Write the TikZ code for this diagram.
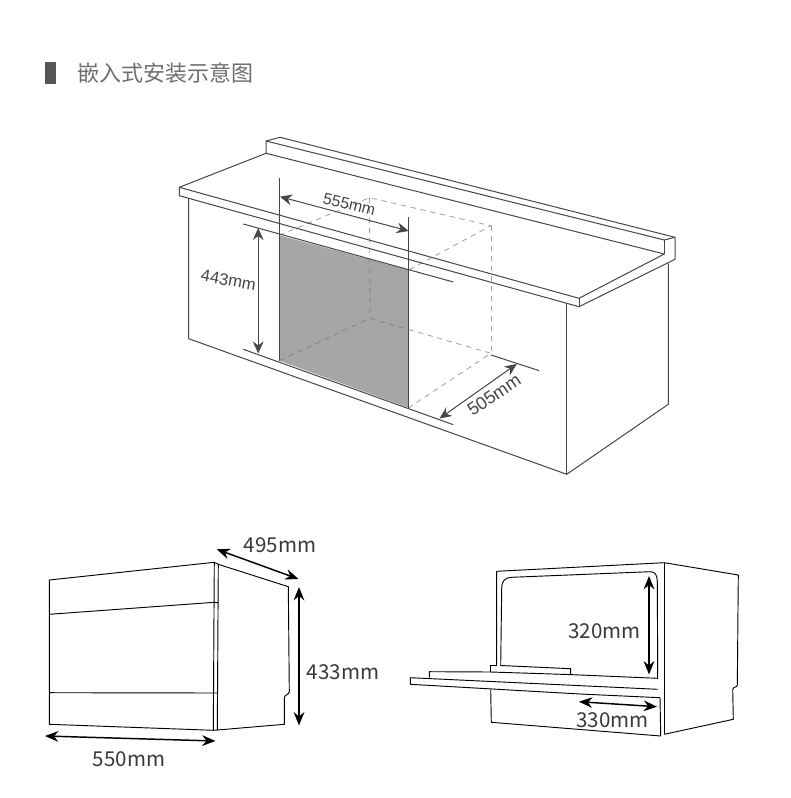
\documentclass[tikz,border=0pt]{standalone}
\usepackage{fontspec}
\setmainfont{Liberation Sans}
\newfontfamily\cjkfont{Noto Sans CJK SC}
\usetikzlibrary{arrows.meta,positioning}
\definecolor{linegray}{RGB}{70,70,70}
\definecolor{panelgray}{RGB}{166,166,166}
\definecolor{dashgray}{RGB}{160,160,160}
\definecolor{titlegray}{RGB}{85,85,85}
\tikzset{
    % Drawing styles
    cabinetline/.style={draw=linegray, line width=0.75pt, line join=round},
    hiddenline/.style={draw=dashgray, line width=0.6pt, dash pattern=on 4pt off 3.5pt},
    unitline/.style={draw=black, line width=0.7pt, line join=round},
    dimarrow/.style={draw=linegray, line width=0.75pt, {Stealth[length=9pt,width=8pt]}-{Stealth[length=9pt,width=8pt]}},
    sizearrow/.style={draw=black, line width=1.1pt, {Stealth[length=10pt,width=8pt]}-{Stealth[length=10pt,width=8pt]}},
    cutlabel/.style={inner sep=0pt, text=linegray, font=\fontsize{12}{14}\selectfont},
    sizelabel/.style={inner sep=0pt, text=black!78, font=\cjkfont\fontsize{15.4}{17}\selectfont}
}
\begin{document}
\begin{tikzpicture}[x=0.75pt,y=-0.75pt]
\useasboundingbox (0,0) rectangle (790,798);

% Title
\fill[titlegray] (45,62) rectangle (56,84);
\node[anchor=west, inner sep=0pt, text=titlegray!85, font=\cjkfont\fontsize{16.5}{18}\selectfont] (title) at (77.5,72.7) {嵌入式安装示意图};

% Gray front panel
\fill[panelgray] (279.3,235.3) -- (408.7,270) -- (408.7,407.7) -- (279.3,360.7) -- cycle;

% Hidden box
\draw[hiddenline] (279.3,235.3) -- (369.5,197.7) -- (491,225.7) -- (408.7,270);
\draw[hiddenline] (369.5,197.7) -- (370,318.3);
\draw[hiddenline] (491,225.7) -- (491,353.3);
\draw[hiddenline] (279.3,360.7) -- (370,318.3) -- (491,353.3) -- (408.7,407.7);

% Hidden box seen on the panel
\begin{scope}
\clip (279.3,235.3) -- (408.7,270) -- (408.7,407.7) -- (279.3,360.7) -- cycle;
\draw[hiddenline, draw=black!48] (369.5,197.7) -- (370,318.3);
\draw[hiddenline, draw=black!48] (279.3,360.7) -- (370,318.3) -- (491,353.3);
\end{scope}

% Countertop
\draw[cabinetline] (266,153.3) -- (179.3,187.3) -- (179.3,195.7) -- (579,306.7) -- (675,259.3) -- (675,237.3) -- (280,137.3) -- (266,141) -- (266,153.3) -- (664.3,254) -- (579,298.3) -- (179.3,187.3);
\draw[cabinetline] (266,141) -- (664.3,240) -- (675,237.3);
\draw[cabinetline] (664.3,240) -- (664.3,254);
\draw[cabinetline] (579,298.3) -- (579,306.7);

% Cabinet body
\draw[cabinetline] (188.7,198.3) -- (188.7,338.7) -- (566.7,474.3) -- (668.3,404.3) -- (668.3,263.3);
\draw[cabinetline] (566.7,303.2) -- (566.7,474.3);

% Opening edges
\draw[cabinetline] (279.3,178.3) -- (279.3,360.7);
\draw[cabinetline] (408.7,217.3) -- (408.7,407.7);
\draw[cabinetline] (243.3,224) -- (453.3,282);
\draw[cabinetline] (243.3,349.3) -- (453.3,424.7);
\draw[cabinetline] (491,355) -- (539.3,370.7);

% Cut-out dimensions
\coordinate (widthL) at (280,196.7);
\coordinate (widthR) at (408.7,231);
\coordinate (heightT) at (258.2,228);
\coordinate (heightB) at (258.2,353.5);
\coordinate (depthF) at (439.5,418.5);
\coordinate (depthB) at (516.7,364);
\draw[dimarrow] (widthL) -- (widthR);
\draw[dimarrow] (heightT) -- (heightB);
\draw[dimarrow] (depthF) -- (depthB);
\node[cutlabel, rotate=-14] (widthlabel) at (349.3,204.3) {555mm};
\node[cutlabel, rotate=-10, font=\fontsize{12.5}{14}\selectfont] (heightlabel) at (228.5,280) {443mm};
\node[cutlabel, rotate=34, font=\fontsize{13.5}{15}\selectfont] (depthlabel) at (494,395) {505mm};

% Unit, front and side
\draw[unitline] (49.3,580) -- (214.3,562.3) -- (213.3,730.3) -- (49.3,724.3) -- cycle;
\draw[unitline] (214.3,562.3) -- (218.3,564.3) -- (217.3,730) -- (213.3,730.3);
\draw[unitline] (49.3,614.3) -- (214.3,602.3) -- (218.2,602.7);
\draw[unitline] (49.3,692.7) -- (218,693);
\draw[unitline] (218.3,564.3) -- (288.3,586.7) -- (289.3,691.7) .. controls (289.3,695) and (284.3,694) .. (284.3,698.3) -- (284.3,724.3) -- (217.3,730);

\coordinate (unitwL) at (45,736);
\coordinate (unitwR) at (215.5,741);
\coordinate (unitdL) at (216.7,549.3);
\coordinate (unitdR) at (298.5,579);
\coordinate (unithT) at (299,587);
\coordinate (unithB) at (299,725.5);
\draw[sizearrow] (unitwL) -- (unitwR);
\draw[sizearrow] (unitdL) -- (unitdR);
\draw[sizearrow, line width=1.6pt] (unithT) -- (unithB);
\node[sizelabel] (unitwlabel) at (129,759) {550mm};
\node[sizelabel] (unitdlabel) at (280,545.5) {495mm};
\node[sizelabel] (unithlabel) at (343,672.5) {433mm};

% Unit with open door
\draw[unitline] (496.7,665.7) -- (496.7,571.3) -- (664.3,562.7) -- (738.3,575) -- (737.3,685) .. controls (737.3,688) and (732.7,686) .. (732.7,690) -- (733.3,719.3) -- (664.3,734.3);
\draw[unitline] (664.3,562.7) -- (664.3,734.3);
\draw[unitline] (500.7,665.5) -- (501.7,588.3) .. controls (501.7,581) and (505,577.6) .. (511.7,577.3) -- (650,571.7) .. controls (655,571.5) and (657.3,575) .. (657.3,581.7) -- (657.7,678.3) -- (570.7,674.6);
\draw[unitline] (490.7,672) -- (490.7,665.7) -- (496.7,665.7);
\draw[unitline] (500.7,665.5) -- (570.7,668.7) -- (570.7,674.6) -- (490.7,672);
\draw[unitline] (429.3,677.7) -- (429.3,671.7) -- (490.7,672);
\draw[unitline] (657.7,689.3) -- (410.3,677.7) -- (410.3,684.3) -- (580,694) -- (660,697.7) -- (660.7,736) -- (491.3,722.3) -- (490.7,690);

\coordinate (racktop) at (649,576);
\coordinate (rackbot) at (649,674.5);
\coordinate (rackL) at (579,701.7);
\coordinate (rackR) at (657,706.7);
\draw[sizearrow, line width=1.4pt] (racktop) -- (rackbot);
\draw[sizearrow] (rackL) -- (rackR);
\node[sizelabel] (racklabel) at (604.5,631) {320mm};
\node[sizelabel] (widthlabelb) at (612.7,720) {330mm};

\end{tikzpicture}
\end{document}
